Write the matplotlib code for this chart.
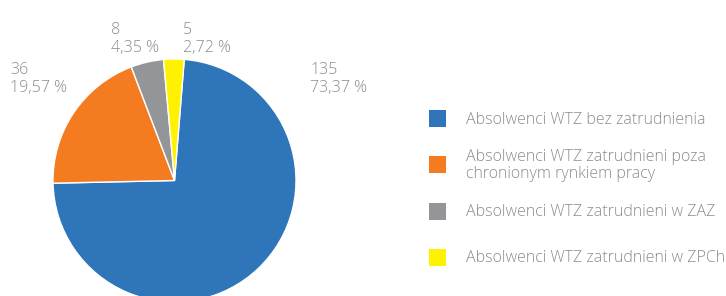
import matplotlib
matplotlib.use("Agg")
import matplotlib.pyplot as plt
from matplotlib.patches import Rectangle

categories = [
    "Absolwenci WTZ bez zatrudnienia",
    "Absolwenci WTZ zatrudnieni poza\nchronionym rynkiem pracy",
    "Absolwenci WTZ zatrudnieni w ZAZ",
    "Absolwenci WTZ zatrudnieni w ZPCh",
]
values = [135, 36, 8, 5]
colors = ["#2E75B9", "#F47B20", "#939598", "#FFF200"]

W, H = 726, 296
fig = plt.figure(figsize=(W / 100, H / 100), dpi=100)
fig.patch.set_facecolor("white")

def fx(x):
    return x / W

def fy(y):
    return (H - y) / H

# Pie: center (174,180), radius 121 px
cx, cy, r = 174.5, 180.5, 121.5
ax = fig.add_axes([fx(cx - r), fy(cy + r), 2 * r / W, 2 * r / H])
wedges, _ = ax.pie(values, colors=colors, startangle=85.4, counterclock=False,
                   radius=1, wedgeprops=dict(edgecolor="white", linewidth=1.0))
for w in wedges:
    w.set_clip_on(False)
ax.set_xlim(-1, 1)
ax.set_ylim(-1, 1)
ax.set_aspect("equal")
ax.axis("off")

tc = "#8C8C8C"
font = dict(family=["Open Sans", "DejaVu Sans"], fontsize=11.5, color=tc, fontweight="light")

total = sum(values)
# label positions (left x, first-line baseline y) in px
label_pos = [(310, 73.5), (10, 73.5), (111, 33.5), (183, 33.5)]
for v, (x, y) in zip(values, label_pos):
    pct = f"{100 * v / total:.2f}".replace(".", ",") + " %"
    fig.text(fx(x), fy(y), str(v), va="baseline", ha="left", **font)
    fig.text(fx(x), fy(y + 18.8), pct, va="baseline", ha="left", **font)

# Legend
sq = 17
sq_centers = [118, 164, 211, 257]
text_baselines = [[123.7], [160.7, 178.5], [216], [262.3]]
for cat, col, yc, bls in zip(categories, colors, sq_centers, text_baselines):
    fig.patches.append(Rectangle((fx(429), fy(yc + sq / 2)), sq / W, sq / H,
                                 transform=fig.transFigure, facecolor=col,
                                 edgecolor="none"))
    for line, bl in zip(cat.split("\n"), bls):
        fig.text(fx(466), fy(bl), line, va="baseline", ha="left", **font)

fig.savefig("out.png", dpi=100, facecolor="white")
